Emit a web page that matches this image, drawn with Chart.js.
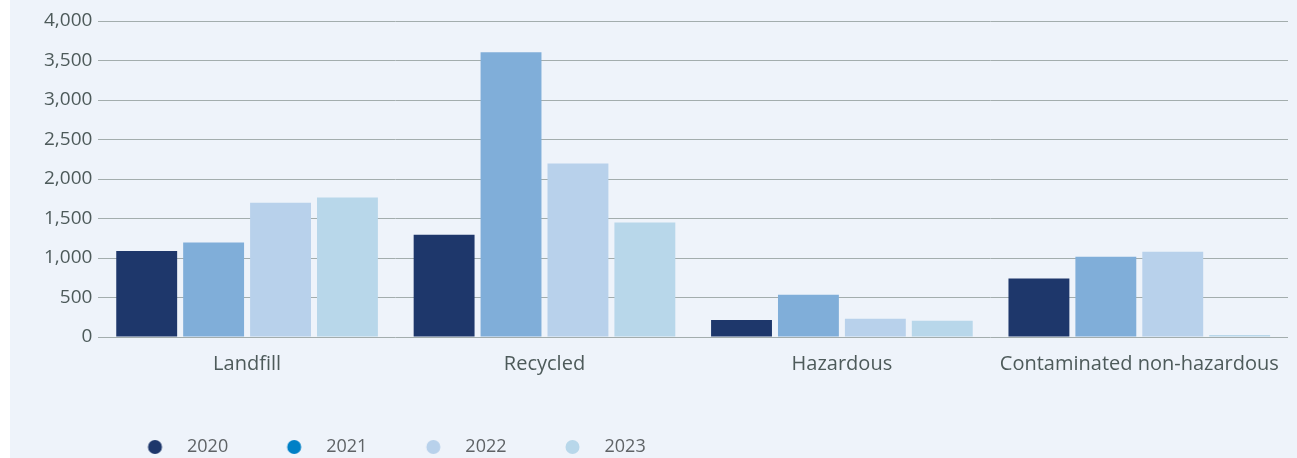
<!DOCTYPE html>
<html>
<head>
<meta charset="utf-8">
<script src="https://cdn.jsdelivr.net/npm/chart.js@4/dist/chart.umd.min.js"></script>
<style>
  html, body { margin: 0; padding: 0; background: #ffffff; }
  #panel { position: absolute; left: 10px; top: 0; width: 1287px; height: 458px; background: #eef3fa; }
  canvas { display: block; }
</style>
</head>
<body>
<div id="panel"><canvas id="c" width="1287" height="458"></canvas></div>
<script>
const categories = ["Landfill", "Recycled", "Hazardous", "Contaminated non-hazardous"];
const years = ["2020", "2021", "2022", "2023"];
const values2020 = [1090, 1295, 215, 740];
const values2021 = [1195, 3605, 535, 1015];
const values2022 = [1700, 2195, 230, 1080];
const values2023 = [1765, 1450, 205, 25];
const barColors = ["#1e376b", "#80aed9", "#b8d1eb", "#b8d7ea"];
const legendColors = ["#1e376b", "#0080c6", "#b8d1eb", "#b8d7ea"];
const yTickMax = 4000;
const yTickStep = 500;

const seriesValues = [values2020, values2021, values2022, values2023];

function dotImage(color) {
  const cv = document.createElement('canvas');
  cv.width = 40; cv.height = 16;
  const g = cv.getContext('2d');
  g.fillStyle = color;
  g.beginPath(); g.arc(31.5, 8, 7, 0, Math.PI * 2); g.fill();
  return cv;
}
const dotImages = legendColors.map(dotImage);

const legendShift = {
  id: 'legendShift',
  afterLayout(chart) {
    chart.legend.left += 51;
    chart.legend.right += 51;
    chart.legend.top += 27;
    chart.legend.bottom += 27;
  }
};

Chart.defaults.font.family = "'Open Sans', sans-serif";

new Chart(document.getElementById('c'), {
  type: 'bar',
  data: {
    labels: categories,
    datasets: years.map((y, i) => ({
      label: y,
      data: seriesValues[i],
      backgroundColor: barColors[i],
      borderWidth: 0,
      categoryPercentage: 0.9,
      barPercentage: 0.91
    }))
  },
  options: {
    responsive: false,
    animation: false,
    devicePixelRatio: 1,
    layout: { padding: { left: 28, right: 9, top: 21, bottom: 19 } },
    plugins: {
      tooltip: { enabled: false },
      legend: {
        position: 'bottom',
        align: 'start',
        labels: {
          usePointStyle: true,
          pointStyleWidth: 69,
          boxHeight: 10,
          padding: 20,
          color: '#5f6366',
          font: { size: 18 },
          generateLabels(chart) {
            return chart.data.datasets.map((ds, i) => ({
              text: ds.label,
              fillStyle: legendColors[i],
              strokeStyle: legendColors[i],
              fontColor: '#5f6366',
              lineWidth: 0,
              pointStyle: dotImages[i],
              datasetIndex: i,
              hidden: false
            }));
          }
        }
      }
    },
    scales: {
      x: {
        grid: { display: false, drawTicks: false },
        border: { display: false },
        ticks: { color: '#4d5a5a', font: { size: 20 }, padding: 15 }
      },
      y: {
        min: 0,
        max: yTickMax,
        grid: { color: '#a3adad', lineWidth: 1, drawTicks: false },
        border: { display: false },
        ticks: {
          stepSize: yTickStep,
          color: '#4d5a5a',
          font: { size: 19 },
          padding: 6,
          callback: v => Number(v).toLocaleString('en-US')
        }
      }
    }
  },
  plugins: [legendShift]
});
</script>
</body>
</html>
